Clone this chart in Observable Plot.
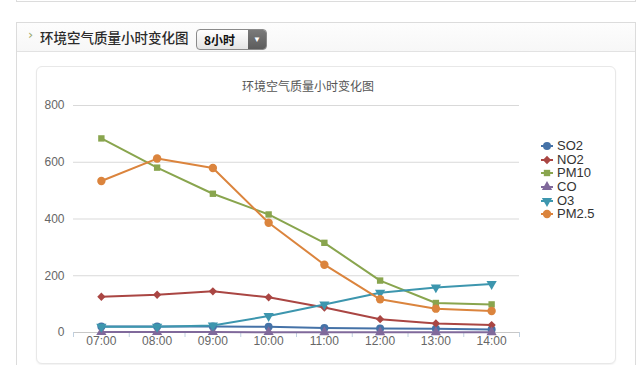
<!DOCTYPE html>
<html><head><meta charset="utf-8">
<script src="https://cdn.jsdelivr.net/npm/d3@7"></script>
<script src="https://cdn.jsdelivr.net/npm/@observablehq/plot@0.6"></script>
<style>
body{margin:0;background:#fff;width:640px;height:365px;overflow:hidden;position:relative;font-family:"Liberation Sans",Arial,sans-serif;}
#topbox{position:absolute;left:16px;top:-10px;width:618px;height:11px;border:1px solid #dcdcdc;border-top:none;background:#fff;}
#panel{position:absolute;left:16px;top:22px;width:618px;height:360px;border:1px solid #dcdcdc;background:#fff;}
#header{position:absolute;left:0;top:0;width:618px;height:28px;border-bottom:1px solid #e2e2e2;background:linear-gradient(#fdfdfd,#f7f7f7);}
#arrow{position:absolute;left:11px;top:4px;font-size:13px;color:#9aa86a;font-family:"DejaVu Sans",sans-serif;}
#htitle{position:absolute;left:23px;top:4px;font-size:13.5px;color:#2a2a2a;font-family:"Noto Sans CJK SC",sans-serif;font-weight:500;line-height:20px;}
#dd{position:absolute;left:179px;top:6px;width:69px;height:19px;border:1px solid #8a8a8a;border-radius:4px;overflow:hidden;background:linear-gradient(#ffffff,#e4e4e4);}
#ddtext{position:absolute;left:7px;top:0;font-size:12px;font-weight:bold;color:#111;font-family:"Noto Sans CJK SC",sans-serif;line-height:19px;}
#ddbtn{position:absolute;right:0;top:0;width:18px;height:19px;background:linear-gradient(#7a7a7a,#5c5c5c);color:#fff;font-size:8px;text-align:center;line-height:19px;}
#box{position:absolute;left:36px;top:66px;width:578px;height:296px;border:1px solid #e8e8e8;border-radius:6px;box-shadow:0 1px 2px rgba(0,0,0,0.06);background:#fff;}
#ctitle{position:absolute;left:208px;width:200px;top:77px;text-align:center;font-size:12px;color:#555;font-family:"Noto Sans CJK SC",sans-serif;line-height:18px;}
#chart{position:absolute;left:37px;top:66px;}
.lg{position:absolute;left:540px;height:14px;font-size:13px;color:#333;line-height:14px;}
.lg svg{position:absolute;left:0;top:0;}
.lg span{position:absolute;left:17px;top:0;white-space:nowrap;}
</style></head><body>
<div id="topbox"></div>
<div id="panel"><div id="header"><span id="arrow">›</span><span id="htitle">环境空气质量小时变化图</span><div id="dd"><span id="ddtext">8小时</span><div id="ddbtn">▼</div></div></div></div>
<div id="box"></div>
<div id="ctitle">环境空气质量小时变化图</div>
<div id="chart"></div>
<div id="legend"></div>
<script>
const hours = ["07:00","08:00","09:00","10:00","11:00","12:00","13:00","14:00"];
const seriesNames = ["SO2","NO2","PM10","CO","O3","PM2.5"];
const SO2  = [21, 21, 21, 20, 16, 14, 13, 11];
const NO2  = [126, 133, 145, 124, 88, 47, 32, 26];
const PM10 = [684, 581, 489, 416, 316, 183, 104, 99];
const CO   = [1.6, 1.5, 1.4, 1.2, 1.1, 1.0, 0.9, 0.9];
const O3   = [20, 20, 25, 58, 99, 140, 159, 171];
const PM25 = [534, 613, 580, 387, 239, 117, 84, 76];
const yTicks = [0, 200, 400, 600, 800];

const seriesValues = [SO2, NO2, PM10, CO, O3, PM25];
const colors = ["#4572A7","#AA4643","#89A54E","#80699B","#3D96AE","#DB843D"];
const symbols = ["circle","square","square","triangle","triangle","circle"];
const rotations = [0,45,0,0,180,0];
const radii = [4,3.3,3.6,3.8,3.8,4.2];

const marks = [
  Plot.gridY(yTicks.filter(t => t > 0), {stroke:"#d9d9d9", strokeOpacity:1}),
  Plot.ruleY([0], {stroke:"#c8c8c8"}),
  Plot.axisX(d3.range(hours.length + 1).map(i => i - 0.5), {tickSize:5, tickFormat:() => "", stroke:"#C0D0E0", strokeOpacity:1, label:null}),
  Plot.axisX(d3.range(hours.length), {tickSize:0, tickPadding:4, tickFormat:i => hours[i], fontSize:12, label:null}),
  Plot.axisY(yTicks, {tickSize:0, tickPadding:9, fontSize:12, label:null})
];
seriesNames.forEach((name, s) => {
  const rows = hours.map((h, i) => ({i, v: seriesValues[s][i], series:name}));
  marks.push(Plot.line(rows, {x:"i", y:"v", stroke:colors[s], strokeWidth:2}));
  marks.push(Plot.dot(rows, {x:"i", y:"v", symbol:symbols[s], rotate:rotations[s], r:radii[s], fill:colors[s], stroke:"none"}));
});

const chart = Plot.plot({
  width: 578, height: 297,
  marginLeft: 36, marginRight: 96, marginTop: 39, marginBottom: 31,
  x: {type:"linear", domain:[-0.5, hours.length - 0.5]},
  y: {domain:[0, 800]},
  style: {fontFamily:"Liberation Sans, Arial, sans-serif", fontSize:"12px", color:"#666", background:"transparent", overflow:"visible"},
  marks
});
document.getElementById("chart").appendChild(chart);

const legend = d3.select("#legend");
seriesNames.forEach((name, s) => {
  const item = legend.append("div").attr("class","lg").style("top", (139 + s*13.66) + "px");
  const svg = item.append("svg").attr("width",16).attr("height",14);
  svg.append("line").attr("x1",1).attr("x2",13).attr("y1",7).attr("y2",7).attr("stroke",colors[s]).attr("stroke-width",2);
  const type = {circle:d3.symbolCircle, square:d3.symbolSquare, triangle:d3.symbolTriangle}[symbols[s]];
  svg.append("path").attr("d", d3.symbol(type, Math.PI*radii[s]*radii[s])()).attr("fill",colors[s])
    .attr("transform", `translate(7,7) rotate(${rotations[s]})`);
  item.append("span").text(name);
});
</script>
</body></html>
